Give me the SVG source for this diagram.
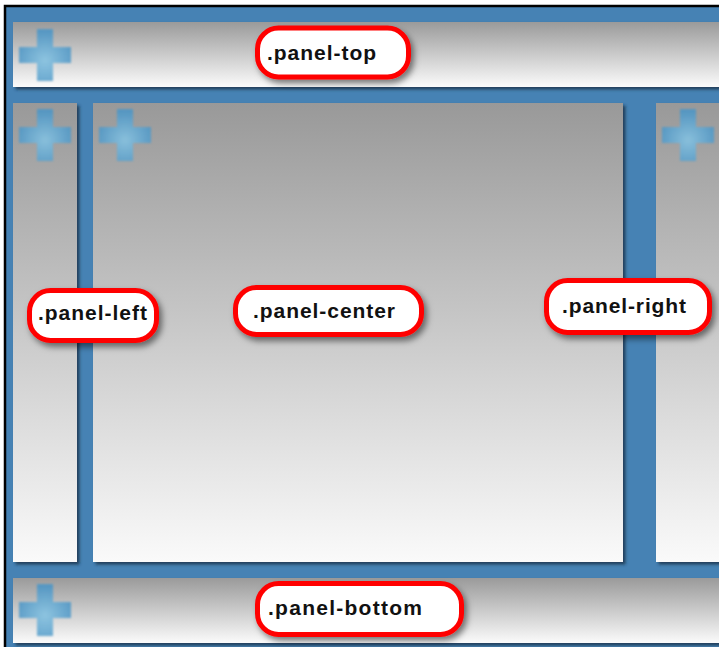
<svg xmlns="http://www.w3.org/2000/svg" width="719" height="647" viewBox="0 0 719 647">
<style>
.lbl{fill:#fff;stroke:#f00;stroke-width:5;filter:url(#ls)}
.txt{font-family:"Liberation Sans",Arial,sans-serif;font-weight:bold;font-size:21px;fill:#111}
</style>
<defs>
<linearGradient id="gh" x1="0" y1="0" x2="0" y2="1">
<stop offset="0" stop-color="#9a9a9a"/><stop offset="1" stop-color="#fbfbfb"/>
</linearGradient>
<linearGradient id="gv" x1="0" y1="0" x2="0" y2="1">
<stop offset="0" stop-color="#999"/><stop offset="1" stop-color="#fafafa"/>
</linearGradient>
<radialGradient id="gp" cx="0.5" cy="0.6" r="0.55">
<stop offset="0" stop-color="#86c3e2"/><stop offset="1" stop-color="#5097c6"/>
</radialGradient>
<filter id="ps" x="-5%" y="-5%" width="115%" height="115%">
<feDropShadow dx="2.5" dy="2.5" stdDeviation="1.5" flood-color="#1a2f45" flood-opacity="0.8"/>
</filter>
<filter id="ls" x="-10%" y="-20%" width="125%" height="150%">
<feDropShadow dx="3" dy="4" stdDeviation="3" flood-color="#000" flood-opacity="0.5"/>
</filter>
<filter id="pb"><feGaussianBlur stdDeviation="0.9"/></filter>
<g id="plus"><path d="M-8-26h16v18h18v16h-18v18h-16v-18h-18v-16h18z" fill="url(#gp)" opacity="0.9" filter="url(#pb)"/></g>
</defs>
<rect width="719" height="647" fill="#fff"/>
<rect x="5" y="6" width="720" height="650" fill="#4682b4" stroke="#000" stroke-width="2.5"/>
<g id="panel-top">
<rect x="13" y="22" width="720" height="65" fill="url(#gh)" filter="url(#ps)"/>
<use href="#plus" x="45" y="55"/>
</g>
<g id="panel-left">
<rect x="13" y="103" width="64" height="459" fill="url(#gv)" filter="url(#ps)"/>
<use href="#plus" x="45" y="135"/>
</g>
<g id="panel-center">
<rect x="93" y="103" width="530" height="459" fill="url(#gv)" filter="url(#ps)"/>
<use href="#plus" x="125" y="135"/>
</g>
<g id="panel-right">
<rect x="656" y="103" width="80" height="459" fill="url(#gv)" filter="url(#ps)"/>
<use href="#plus" x="688" y="135"/>
</g>
<g id="panel-bottom">
<rect x="13" y="578" width="720" height="65" fill="url(#gh)" filter="url(#ps)"/>
<use href="#plus" x="45" y="610"/>
</g>
<g id="label-top">
<rect class="lbl" x="257.5" y="28" width="151" height="49" rx="21"/>
<text class="txt" x="267" y="60" textLength="109" lengthAdjust="spacing">.panel-top</text>
</g>
<g id="label-left">
<rect class="lbl" x="29.5" y="290.5" width="127" height="50" rx="21"/>
<text class="txt" x="38" y="320" textLength="109" lengthAdjust="spacing">.panel-left</text>
</g>
<g id="label-center">
<rect class="lbl" x="235.5" y="287.5" width="186" height="47" rx="21"/>
<text class="txt" x="253" y="318" textLength="142" lengthAdjust="spacing">.panel-center</text>
</g>
<g id="label-right">
<rect class="lbl" x="546.5" y="280.5" width="163" height="52" rx="21"/>
<text class="txt" x="562" y="313" textLength="124" lengthAdjust="spacing">.panel-right</text>
</g>
<g id="label-bottom">
<rect class="lbl" x="257.5" y="583.5" width="204" height="51" rx="21"/>
<text class="txt" x="268" y="615" textLength="154" lengthAdjust="spacing">.panel-bottom</text>
</g>
</svg>
